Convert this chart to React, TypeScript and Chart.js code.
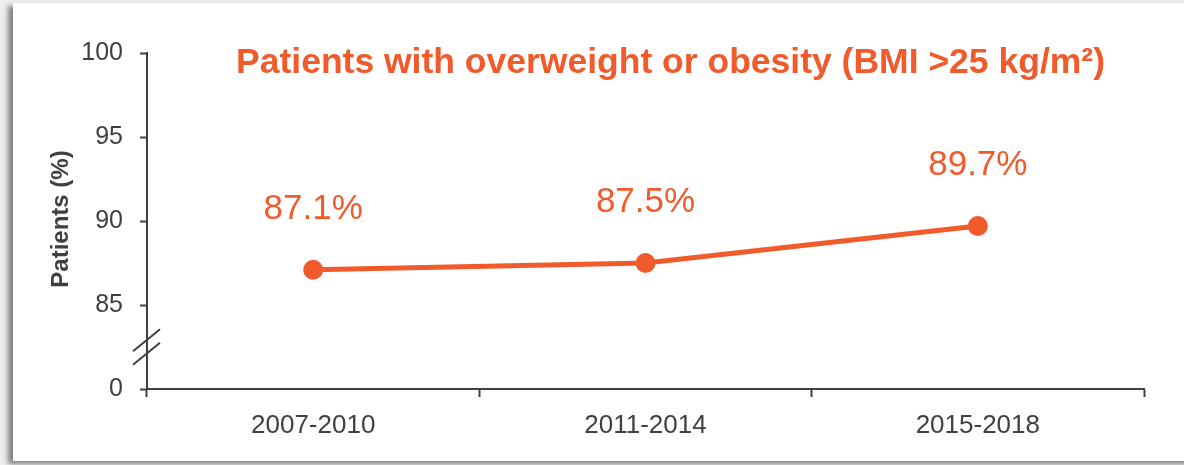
import React, { useEffect, useRef } from "react";
import { Chart, registerables } from "chart.js";

Chart.register(...registerables);

const categories = ["2007-2010", "2011-2014", "2015-2018"];
const patientsPct = [87.1, 87.5, 89.7];
const yTickValues = [80, 85, 90, 95, 100];
const yTickLabels = ["0", "85", "90", "95", "100"];
const breakValues = [82.9, 82.1];
const chartTitle = "Patients with overweight or obesity (BMI >25 kg/m²)";
const yAxisTitle = "Patients (%)";

const ORANGE = "#F15A2B";
const GREY = "#404040";
const FONT = "'Liberation Sans', Arial, sans-serif";

const decorPlugin = {
  id: "decor",
  afterDraw(chart: any) {
    const ctx = chart.ctx;
    const xs = chart.scales.x;
    const ys = chart.scales.y;
    const meta = chart.getDatasetMeta(0);
    ctx.save();
    // data labels
    ctx.fillStyle = ORANGE;
    ctx.font = `35px ${FONT}`;
    ctx.textAlign = "center";
    ctx.textBaseline = "alphabetic";
    meta.data.forEach((pt: any, i: number) => {
      ctx.fillText(patientsPct[i].toFixed(1) + "%", pt.x, pt.y - 51);
    });
    // title
    ctx.font = `bold 35.5px ${FONT}`;
    ctx.textAlign = "center";
    ctx.fillText(chartTitle, (chart.chartArea.left + chart.chartArea.right) / 2 + 25, 73);
    // y-axis title
    ctx.save();
    ctx.translate(61, (ys.top + ys.bottom) / 2 - 2);
    ctx.rotate(-Math.PI / 2);
    ctx.fillStyle = GREY;
    ctx.font = `bold 24px ${FONT}`;
    ctx.textAlign = "center";
    ctx.textBaseline = "middle";
    ctx.fillText(yAxisTitle, 0, 0);
    ctx.restore();
    // axis break marks
    const ax = xs.left;
    ctx.strokeStyle = GREY;
    ctx.lineWidth = 2;
    breakValues.forEach((v) => {
      const y = ys.getPixelForValue(v);
      ctx.beginPath();
      ctx.moveTo(ax - 14, y + 11);
      ctx.lineTo(ax + 13, y - 11);
      ctx.stroke();
    });
    ctx.restore();
  },
};

export default function App() {
  const canvasRef = useRef<HTMLCanvasElement>(null);

  useEffect(() => {
    if (!canvasRef.current) return;
    const chart = new Chart(canvasRef.current, {
      type: "line",
      data: {
        labels: categories,
        datasets: [
          {
            data: patientsPct,
            borderColor: ORANGE,
            backgroundColor: ORANGE,
            borderWidth: 5,
            pointRadius: 10,
            pointBackgroundColor: ORANGE,
            pointBorderWidth: 0,
            tension: 0,
            fill: false,
          },
        ],
      },
      options: {
        responsive: false,
        animation: false,
        maintainAspectRatio: false,
        layout: { padding: { left: 0, right: 40, top: 53, bottom: 0 } },
        plugins: {
          legend: { display: false },
          title: { display: false },
          tooltip: { enabled: false },
        },
        scales: {
          x: {
            type: "category",
            offset: true,
            grid: {
              offset: true,
              drawOnChartArea: false,
              drawTicks: true,
              tickLength: 8,
              tickWidth: 2,
              tickColor: GREY,
            },
            border: { display: true, color: GREY, width: 2 },
            ticks: {
              color: GREY,
              font: { family: FONT, size: 26 },
              padding: 13,
              maxRotation: 0,
            },
            afterFit(scale: any) {
              scale.height = 76;
            },
          },
          y: {
            type: "linear",
            min: 80,
            max: 100,
            afterBuildTicks(scale: any) {
              scale.ticks = yTickValues.map((v) => ({ value: v }));
            },
            grid: {
              drawOnChartArea: false,
              drawTicks: true,
              tickLength: 7,
              tickWidth: 2,
              tickColor: GREY,
            },
            border: { display: true, color: GREY, width: 2 },
            ticks: {
              color: GREY,
              font: { family: FONT, size: 25 },
              padding: 17,
              callback: (v: any) => {
                const idx = yTickValues.indexOf(Number(v));
                return idx >= 0 ? yTickLabels[idx] : "";
              },
            },
            afterFit(scale: any) {
              scale.width = 147;
            },
          },
        },
      },
      plugins: [decorPlugin],
    });
    return () => chart.destroy();
  }, []);

  return (
    <div
      style={{
        position: "fixed",
        left: 0,
        top: 0,
        width: 1184,
        height: 465,
        overflow: "hidden",
        background: "#eeeeee",
      }}
    >
      <div
        style={{
          position: "absolute",
          left: 13,
          top: 3,
          width: 1220,
          height: 458,
          background: "#ffffff",
          boxShadow: "-5px 3px 5px rgba(0,0,0,0.45)",
        }}
      />
      <canvas
        ref={canvasRef}
        width={1184}
        height={465}
        style={{ position: "absolute", left: 0, top: 0, width: 1184, height: 465 }}
      />
    </div>
  );
}
